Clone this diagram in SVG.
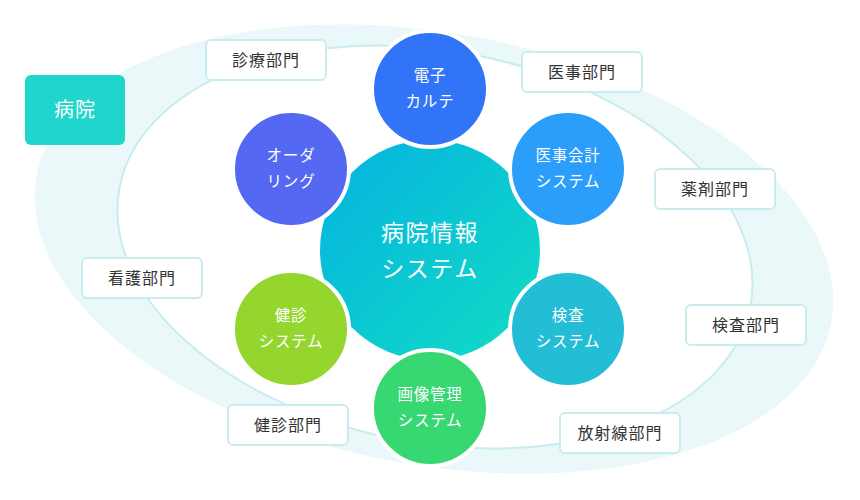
<svg xmlns="http://www.w3.org/2000/svg" width="860" height="500" viewBox="0 0 860 500">
<defs>
<linearGradient id="core" x1="0" y1="0" x2="1" y2="1">
<stop offset="0" stop-color="#04b2e0"/>
<stop offset="1" stop-color="#12ddc4"/>
</linearGradient>
<style>
text{font-family:"Noto Sans CJK JP","Noto Sans",sans-serif;text-anchor:middle}
.box rect{fill:#ffffff;stroke:#c9ecee;stroke-width:2}
.box text{fill:#333333;font-size:16px;letter-spacing:1px}
.sys circle{stroke:#ffffff;stroke-width:4}
.sys text{fill:#ffffff;font-size:15.5px;letter-spacing:0.8px}
</style>
</defs>
<rect width="860" height="500" fill="#ffffff"/>
<g id="rings">
<ellipse cx="434" cy="249" rx="404" ry="216" fill="#eaf8f9" transform="rotate(10.4 434 249)"/>
<ellipse cx="435" cy="247" rx="321" ry="196" fill="#ffffff" stroke="#c9ecee" stroke-width="2" transform="rotate(10.6 435 247)"/>
</g>
<g id="hospital">
<rect x="25" y="75" width="100" height="70" rx="6" fill="#20d5cc"/>
<text x="75" y="117" fill="#ffffff" font-size="20" letter-spacing="1">病院</text>
</g>
<g id="core-system">
<circle cx="430" cy="250" r="110" fill="url(#core)"/>
<text x="430" y="241" fill="#ffffff" font-size="23" letter-spacing="1.5">病院情報</text>
<text x="430" y="277" fill="#ffffff" font-size="23" letter-spacing="1.5">システム</text>
</g>
<g id="emr" class="sys">
<circle cx="430" cy="89" r="58" fill="#3174f7"/>
<text x="430" y="81">電子</text>
<text x="430" y="107">カルテ</text>
</g>
<g id="accounting" class="sys">
<circle cx="568" cy="169" r="58" fill="#2b9dfa"/>
<text x="568" y="161">医事会計</text>
<text x="568" y="187">システム</text>
</g>
<g id="lab-system" class="sys">
<circle cx="568" cy="329" r="58" fill="#23bdd6"/>
<text x="568" y="321">検査</text>
<text x="568" y="347">システム</text>
</g>
<g id="imaging" class="sys">
<circle cx="430" cy="408" r="58" fill="#37d772"/>
<text x="430" y="400">画像管理</text>
<text x="430" y="426">システム</text>
</g>
<g id="checkup-system" class="sys">
<circle cx="291" cy="329" r="58" fill="#94d62e"/>
<text x="291" y="321">健診</text>
<text x="291" y="347">システム</text>
</g>
<g id="ordering" class="sys">
<circle cx="291" cy="169" r="58" fill="#5568f1"/>
<text x="291" y="161">オーダ</text>
<text x="291" y="187">リング</text>
</g>
<g id="dept-clinical" class="box"><rect x="206" y="40" width="120" height="40" rx="5"/><text x="266" y="66">診療部門</text></g>
<g id="dept-medical-affairs" class="box"><rect x="522" y="52" width="120" height="40" rx="5"/><text x="582" y="78">医事部門</text></g>
<g id="dept-pharmacy" class="box"><rect x="655" y="169" width="120" height="40" rx="5"/><text x="715" y="195">薬剤部門</text></g>
<g id="dept-nursing" class="box"><rect x="82" y="258" width="120" height="40" rx="5"/><text x="142" y="284">看護部門</text></g>
<g id="dept-lab" class="box"><rect x="686" y="305" width="120" height="40" rx="5"/><text x="746" y="331">検査部門</text></g>
<g id="dept-checkup" class="box"><rect x="228" y="405" width="120" height="40" rx="5"/><text x="288" y="431">健診部門</text></g>
<g id="dept-radiology" class="box"><rect x="560" y="413" width="120" height="40" rx="5"/><text x="620" y="439">放射線部門</text></g>
</svg>
